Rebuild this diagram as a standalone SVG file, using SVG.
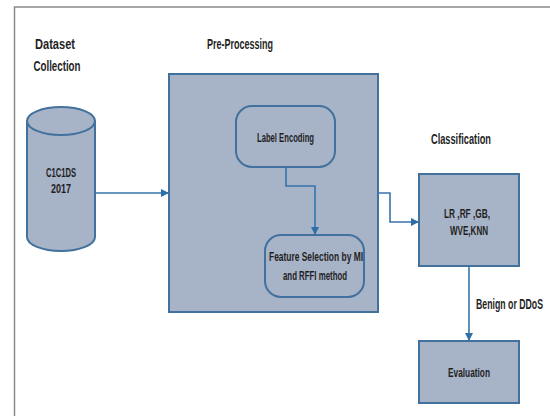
<svg xmlns="http://www.w3.org/2000/svg" width="550" height="416" viewBox="0 0 550 416">
<defs>
<style>
.shape{fill:#A7B3C7;stroke:#41719C;stroke-width:2}
.inner{fill:#A7B3C7;stroke:#41719C;stroke-width:2}
.t{font-family:"Liberation Sans Narrow","Liberation Sans",Arial,sans-serif;font-weight:bold;fill:#1f1f1f;text-anchor:middle;dominant-baseline:central}
.h{font-size:15px}
.s{font-size:12.5px}
.conn{fill:none;stroke:#3474AD;stroke-width:1.6}
</style>
<marker id="arr" markerWidth="8" markerHeight="8" refX="7" refY="4" orient="auto" markerUnits="userSpaceOnUse">
<path d="M0,0 L8,4 L0,8 z" fill="#2F6FA8"/>
</marker>
</defs>
<rect width="550" height="416" fill="#ffffff"/>
<path d="M14.5,416 L14.5,7 L550,7" fill="none" stroke="#8a8a8a" stroke-width="1.5"/>

<g id="label-dataset">
<text class="t h" x="55" y="43" textLength="40" lengthAdjust="spacingAndGlyphs">Dataset</text>
<text class="t h" x="57" y="65" textLength="47" lengthAdjust="spacingAndGlyphs">Collection</text>
</g>
<g id="label-preprocessing">
<text class="t h" x="240" y="43" textLength="66" lengthAdjust="spacingAndGlyphs">Pre-Processing</text>
</g>
<g id="label-classification">
<text class="t h" x="461" y="138" textLength="60" lengthAdjust="spacingAndGlyphs">Classification</text>
</g>

<g id="dataset">
<path class="shape" d="M27,121 L27,237 A34,14 0 0 0 95,237 L95,121"/>
<ellipse class="shape" cx="61" cy="121" rx="34" ry="14"/>
<text class="t s" x="61" y="173" textLength="30" lengthAdjust="spacingAndGlyphs">C1C1DS</text>
<text class="t s" x="61" y="189" textLength="20" lengthAdjust="spacingAndGlyphs">2017</text>
</g>

<g id="preprocessing">
<rect class="shape" x="169" y="74" width="209" height="238"/>
</g>

<g id="label-encoding">
<rect class="inner" x="236" y="106" width="99" height="61" rx="16" ry="16"/>
<text class="t s" x="285.5" y="138" textLength="57" lengthAdjust="spacingAndGlyphs">Label Encoding</text>
</g>

<g id="feature-selection">
<rect class="inner" x="265" y="235" width="99" height="62" rx="16" ry="16"/>
<text class="t s" x="316" y="257" textLength="94" lengthAdjust="spacingAndGlyphs">Feature Selection by MI</text>
<text class="t s" x="315" y="276" textLength="64" lengthAdjust="spacingAndGlyphs">and RFFI method</text>
</g>

<g id="classification">
<rect class="shape" x="419" y="174" width="100" height="92"/>
<text class="t s" x="467" y="214" textLength="46" lengthAdjust="spacingAndGlyphs">LR ,RF ,GB,</text>
<text class="t s" x="469" y="231" textLength="38" lengthAdjust="spacingAndGlyphs">WVE,KNN</text>
</g>

<g id="evaluation">
<rect class="shape" x="419" y="341" width="100" height="62"/>
<text class="t s" x="469" y="373" textLength="42" lengthAdjust="spacingAndGlyphs">Evaluation</text>
</g>

<g id="connectors">
<path class="conn" d="M95,193 L168,193" marker-end="url(#arr)"/>
<path class="conn" d="M286,167 L286,186 L315,186 L315,234" marker-end="url(#arr)"/>
<path class="conn" d="M378,193 L390,193 L390,222 L418,222" marker-end="url(#arr)"/>
<path class="conn" d="M469,266 L469,340" marker-end="url(#arr)"/>
<text class="t" x="543" y="304" style="text-anchor:end;font-size:14px" textLength="67" lengthAdjust="spacingAndGlyphs">Benign or DDoS</text>
</g>
</svg>
